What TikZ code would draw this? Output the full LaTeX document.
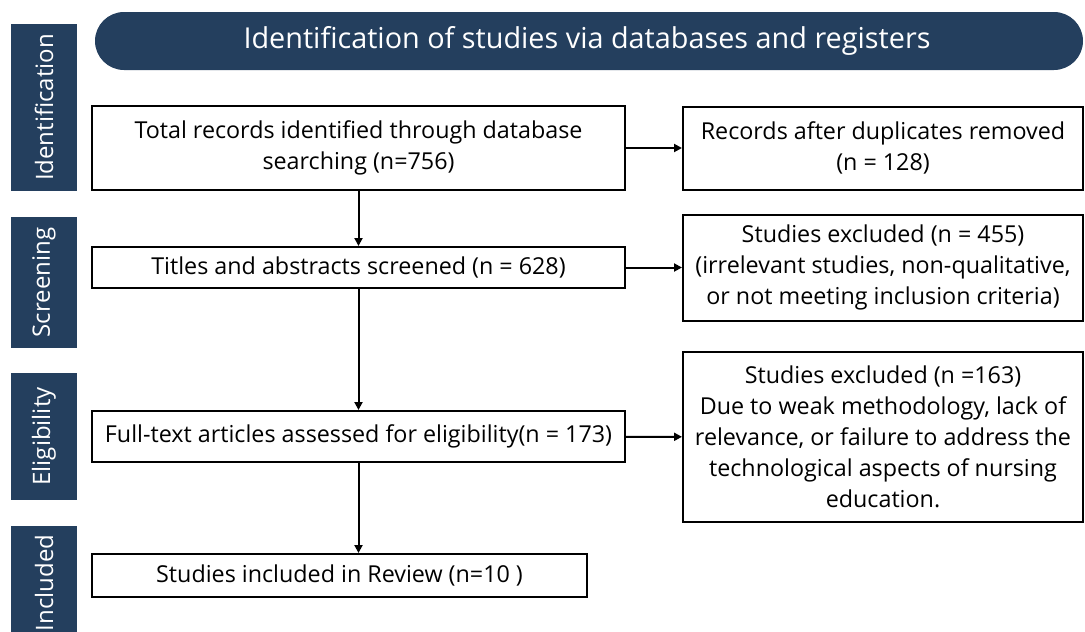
\documentclass[tikz,border=0pt]{standalone}
\usepackage{fontspec}
\setmainfont{Open Sans}
\usetikzlibrary{arrows.meta}
\definecolor{navy}{HTML}{243F5E}
\tikzset{stagebar/.style={fill=navy, draw=none}}
\tikzset{stagetext/.style={text=white, rotate=90, font=\fontsize{24}{28}\selectfont}}
\tikzset{flowbox/.style={draw, line width=2pt, align=center, inner sep=0pt,
      font=\fontsize{23.3}{31}\selectfont}}
\tikzset{flowarrow/.style={line width=2pt, -{Triangle[length=8pt,width=8pt]}}}

\begin{document}
\begin{tikzpicture}[x=1pt,y=-1pt]
    \useasboundingbox (0,0) rectangle (1085,632);
    % stages on the left
    \fill[stagebar] (11,24) rectangle (77,191);
    \fill[stagebar] (11,217) rectangle (77,348);
    \fill[stagebar] (11,373) rectangle (77,500);
    \fill[stagebar] (11,526) rectangle (77,645);
    \node[stagetext] (sident) at (44,107.5) {Identification};
    \node[stagetext] (sscreen) at (44,282.5) {Screening};
    \node[stagetext] (selig) at (44,436.5) {Eligibility};
    \node[stagetext] (sincl) at (44,583) {Included};

    % banner
    \fill[navy, rounded corners=29pt] (95,12) rectangle (1083,70);
    \node[text=white, font=\fontsize{28.8}{32}\selectfont] (banner) at (587,41)
      {Identification of studies via databases and registers};

    % main column
    \node[flowbox, minimum width=533pt, minimum height=84pt] (total) at (358.5,148)
      {Total records identified through database\\searching (n=756)};
    \node[flowbox, minimum width=533pt, minimum height=41pt] (titles) at (358.5,267.5)
      {Titles and abstracts screened (n = 628)};
    \node[flowbox, minimum width=533pt, minimum height=51pt] (fulltext) at (358.5,436.5)
      {Full-text articles assessed for eligibility(n = 173)};
    \node[flowbox, minimum width=495pt, minimum height=43pt] (included) at (339.5,575.5)
      {Studies included in Review (n=10 )};

    % side column
    \node[flowbox, minimum width=400pt, minimum height=83pt] (dupes) at (883,148)
      {Records after duplicates removed\\(n = 128)};
    \node[flowbox, minimum width=400pt, minimum height=106pt] (excl1) at (883,267.5)
      {Studies excluded (n = 455)\\(irrelevant studies, non-qualitative,\\or not meeting inclusion criteria)};
    \node[flowbox, minimum width=400pt, minimum height=170pt] (excl2) at (883,437)
      {Studies excluded (n =163)\\Due to weak methodology, lack of\\relevance, or failure to address the\\technological aspects of nursing\\education.};

    \draw[flowarrow] (total) -- (titles);
    \draw[flowarrow] (titles) -- (fulltext);
    \draw[flowarrow] (fulltext.south) -- (fulltext.south |- included.north);
    \draw[flowarrow] (total) -- (dupes);
    \draw[flowarrow] (titles) -- (excl1);
    \draw[flowarrow] (fulltext) -- (excl2);
\end{tikzpicture}
\end{document}
